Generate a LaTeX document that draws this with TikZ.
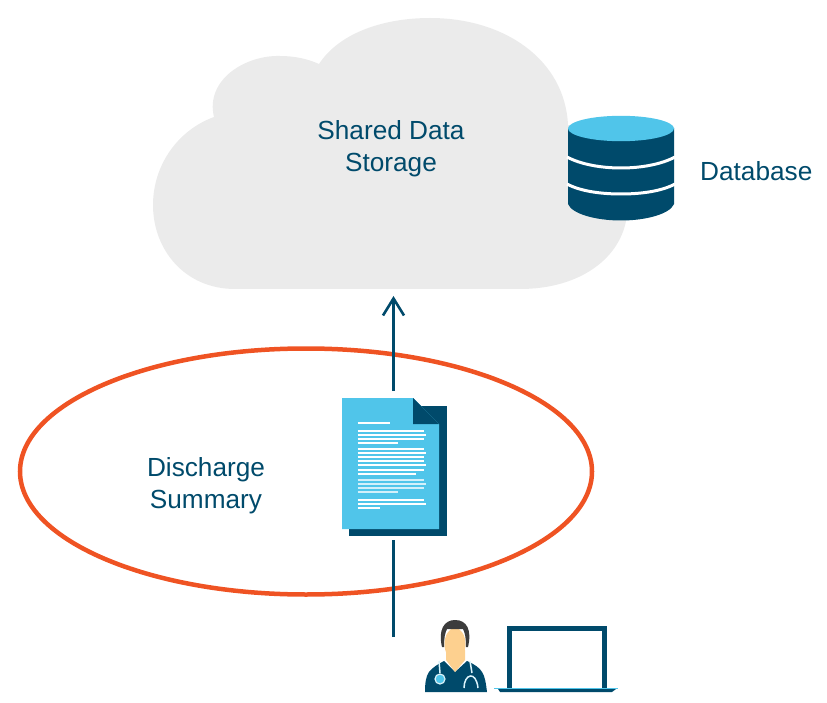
\documentclass[tikz,border=0pt]{standalone}
\usepackage{fontspec}
\setmainfont{Liberation Sans}
\usetikzlibrary{arrows.meta}
\definecolor{navy}{HTML}{004A6B}
\definecolor{sky}{HTML}{50C5EA}
\definecolor{cloudgrey}{HTML}{EBEBEB}
\definecolor{ring}{HTML}{EF5323}
\definecolor{skin}{HTML}{FDD08F}
\definecolor{hair}{HTML}{3C3C3C}
\tikzset{
  label text/.style={text=navy,font=\fontsize{26.2}{32}\selectfont,align=center,inner sep=0pt},
  flow/.style={draw=navy,line width=2.6pt},
  docline/.style={draw=white,line width=1.6pt},
  docfaint/.style={draw=white!75!sky,line width=1.6pt},
}
\begin{document}
\begin{tikzpicture}[x=1pt,y=-1pt]
\useasboundingbox (0,0) rectangle (827,703);
% cloud
\fill[cloudgrey] (235,289)
  .. controls (185,289) and (153,250) .. (153,205)
  .. controls (153,165) and (178,130) .. (214,117)
  .. controls (205,80) and (245,55) .. (280,56)
  .. controls (295,56) and (308,59) .. (319,64)
  .. controls (340,32) and (385,18) .. (430,18)
  .. controls (505,18) and (565,60) .. (568,125)
  .. controls (600,140) and (630,175) .. (627,215)
  .. controls (622,258) and (580,289) .. (520,289)
  -- cycle;
\node[label text] (storage) at (391,149) {Shared Data\\Storage};
% database
\fill[navy] (568,128) -- (568,204)
  .. controls (572,214) and (596,220.5) .. (621,220.5)
  .. controls (646,220.5) and (670,214) .. (674,204)
  -- (674,128) -- cycle;
\draw[white,line width=3pt] (567,157) .. controls (580,164) and (600,168) .. (621,168) .. controls (642,168) and (662,164) .. (675,157);
\draw[white,line width=3pt] (567,184) .. controls (580,191) and (600,194) .. (621,194) .. controls (642,194) and (662,191) .. (675,184);
\fill[sky] (621,128.5) ellipse [x radius=53,y radius=12.7];
\node[label text,anchor=west] (database) at (700,171.5) {Database};
% ring
\draw[ring,line width=4.5pt] (306,471.5) ellipse [x radius=286,y radius=123];
\node[label text] (discharge) at (206,485.5) {Discharge\\Summary};
% connector ends
\coordinate (docbottom) at (393.5,540);
\coordinate (doctop) at (393.5,391);
\coordinate (cloudbottom) at (393.5,296);
\coordinate (doctor) at (393.5,637);
\draw[flow] (doctor) -- (docbottom);
\draw[flow,-{Straight Barb[length=17pt,width=21pt,line width=2.6pt]}] (doctop) -- (cloudbottom);
% document
\fill[navy] (349,406) rectangle (447,536);
\fill[sky] (342,398) -- (413,398) -- (439,424) -- (439,529) -- (342,529) -- cycle;
\fill[navy] (413,398) -- (439,424) -- (413,424) -- cycle;
\foreach \yy/\xx in {423/390,431/424,435/426,439/424,443/398,449/424,453/426,457/424,461/424,465/426,470/424,474/416}
  \draw[docline] (357.5,\yy) -- (\xx,\yy);
\foreach \yy/\xx in {480/424,484/426,488/424,492/398}
  \draw[docfaint] (357.5,\yy) -- (\xx,\yy);
\foreach \yy/\xx in {500/424,504/426,508/380}
  \draw[docline] (357.5,\yy) -- (\xx,\yy);
% doctor
\fill[navy] (425,692) .. controls (425,683) and (426,676) .. (429,672)
  .. controls (432,668) and (438,664) .. (444,661)
  -- (455,672) -- (467,661)
  .. controls (474,664) and (480,668) .. (482,672)
  .. controls (485,676) and (486,684) .. (487,692) -- cycle;
\fill[skin] (446,650) -- (446,660) -- (455,672) -- (465,660) -- (465,650) -- cycle;
\fill[skin] (455,644) ellipse [x radius=10.5,y radius=16];
\fill[hair] (442,647) .. controls (438,630) and (444,620) .. (455,620)
  .. controls (467,620) and (472,630) .. (468,647) -- (466,647)
  .. controls (466,638) and (465,633) .. (463,629) -- (447,629)
  .. controls (445,633) and (444,638) .. (444,647) -- cycle;
\draw[white!80!sky,line width=1.5pt] (439,661) -- (440,673);
\fill[sky] (440,679) circle (4.5);
\draw[white!80!sky,line width=1.2pt] (440,679) circle (5);
\draw[white!80!sky,line width=1.5pt] (470,661) -- (472,673)
  (464,688) .. controls (464,674) and (476,670) .. (478,688);
% laptop
\draw[navy,line width=5pt] (509.5,688) -- (509.5,628.5) -- (604.5,628.5) -- (604.5,688);
\fill[navy] (498,689) -- (616,689) -- (612,692) -- (500,692) -- cycle;
\draw[sky,line width=1.5pt] (494,688.5) -- (618,688.5);
\end{tikzpicture}
\end{document}
